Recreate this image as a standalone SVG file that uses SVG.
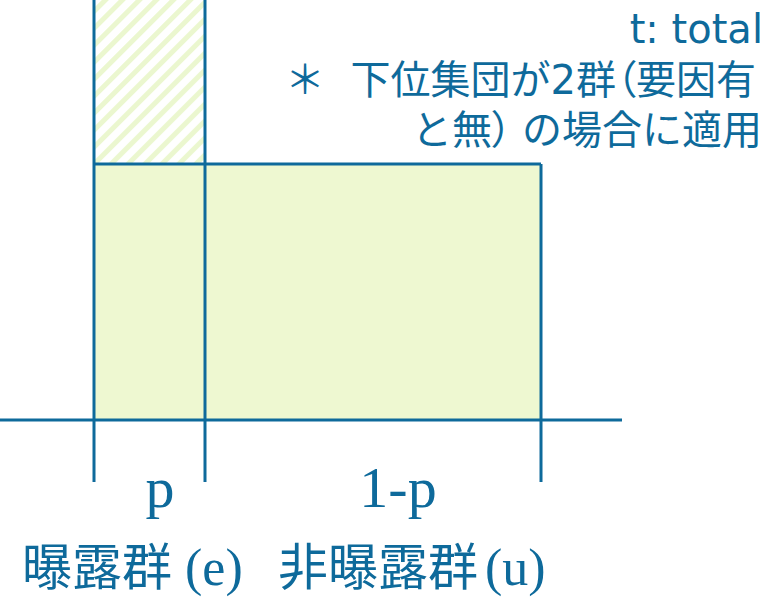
<svg xmlns="http://www.w3.org/2000/svg" width="778" height="600" viewBox="0 0 778 600">
<style>
.ln{stroke:#0e6a9b;stroke-width:3;fill:none}
.t{fill:#0e6a9b}
.note{font-family:"DejaVu Sans","Noto Sans CJK JP",sans-serif;font-size:40px;text-anchor:end;white-space:pre}
.ser{font-family:"Liberation Serif",serif}
.cjk{font-family:"Noto Sans CJK JP",sans-serif;font-size:50px}
.palt{font-feature-settings:'palt'}
</style>
<defs>
<pattern id="hatch" patternUnits="userSpaceOnUse" width="12" height="12" patternTransform="rotate(45)">
<rect width="12" height="12" fill="#ffffff"/>
<rect x="0" y="0" width="5" height="12" fill="#ebf7cf"/>
</pattern>
</defs>
<rect width="778" height="600" fill="#ffffff"/>
<g id="hatched-area">
<rect x="94" y="0" width="111" height="164" fill="url(#hatch)"/>
</g>
<g id="main-area">
<rect x="94" y="164" width="447" height="256" fill="#eef8d1"/>
</g>
<g id="connectors">
<line class="ln" x1="94" y1="0" x2="94" y2="482"/>
<line class="ln" x1="205" y1="0" x2="205" y2="482"/>
<line class="ln" x1="541" y1="164" x2="541" y2="482"/>
<line class="ln" x1="94" y1="164" x2="541" y2="164"/>
<line class="ln" x1="0" y1="420" x2="622" y2="420"/>
</g>
<g id="notes">
<text class="t note" x="763" y="43" font-size="43">t: total</text>
<text class="t note" x="756" y="94">＊  下位集団が2群<tspan class="palt">（</tspan>要因有</text>
<text class="t note" x="762" y="144">と無<tspan class="palt" letter-spacing="10">）</tspan>の場合に適用</text>
</g>
<g id="labels">
<text class="t ser" x="160" y="507" font-size="58" text-anchor="middle">p</text>
<text class="t ser" x="398" y="507" font-size="58" text-anchor="middle">1-p</text>
<text class="t cjk" x="22" y="585">曝露群</text>
<text class="t ser" x="185" y="585" font-size="52">(e)</text>
<text class="t cjk" x="278" y="585">非曝露群</text>
<text class="t ser" x="485" y="585" font-size="52">(u)</text>
</g>
</svg>
